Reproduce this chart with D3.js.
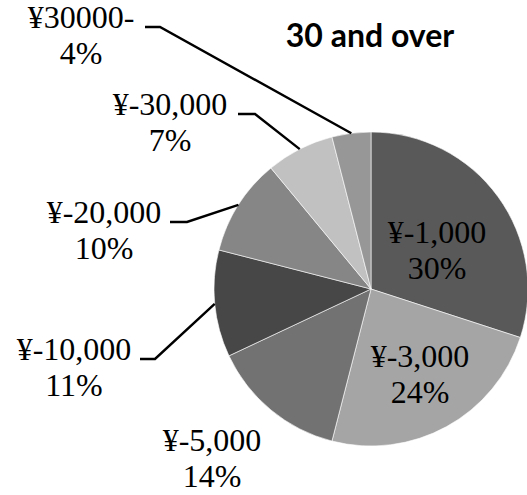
<!DOCTYPE html>
<html><head><meta charset="utf-8">
<script src="https://cdn.jsdelivr.net/npm/d3@7"></script>
<style>html,body{margin:0;padding:0;background:#fff;}svg{display:block;}</style>
</head><body>
<script>
const categories = ["¥-1,000", "¥-3,000", "¥-5,000", "¥-10,000", "¥-20,000", "¥-30,000", "¥30000-"];
const values = [30, 24, 14, 11, 10, 7, 4];
const percentLabels = ["30%", "24%", "14%", "11%", "10%", "7%", "4%"];
const colors = ["#595959", "#a5a5a5", "#727272", "#474747", "#868686", "#c1c1c1", "#979797"];
const title = "30 and over";

const W = 527, H = 495;
const cx = 371, cy = 289, R = 157;

const svg = d3.select("body").append("svg").attr("width", W).attr("height", H);

const pie = d3.pie().sort(null).value(d => d)(values);
const arc = d3.arc().innerRadius(0).outerRadius(R);

const g = svg.append("g").attr("transform", `translate(${cx},${cy})`);
g.selectAll("path").data(pie).join("path")
  .attr("d", arc)
  .attr("fill", (d, i) => colors[i])
  .attr("stroke", "#ffffff").attr("stroke-width", 0.6);

const labelPos = [
  {x: 437, y: 243},
  {x: 420, y: 367},
  {x: 212, y: 451},
  {x: 74,  y: 360, lead: [140, 155]},
  {x: 104, y: 223, lead: [170, 187]},
  {x: 170, y: 115, lead: [238, 255]},
  {x: 81,  y: 28,  lead: [145, 160]}
];
const lineGap = 36;

pie.forEach((d, i) => {
  const p = labelPos[i];
  if (!p.lead) return;
  const a = (d.startAngle + d.endAngle) / 2;
  const ex = cx + R * Math.sin(a), ey = cy - R * Math.cos(a);
  const ly = p.y - 1;
  svg.append("polyline")
    .attr("points", `${p.lead[0]},${ly} ${p.lead[1]},${ly} ${ex},${ey}`)
    .attr("fill", "none").attr("stroke", "#000").attr("stroke-width", 2.4);
});

pie.forEach((d, i) => {
  const p = labelPos[i];
  const t = svg.append("text")
    .attr("font-family", "'Liberation Serif', 'Times New Roman', serif")
    .attr("font-size", 32).attr("fill", "#000").attr("text-anchor", "middle");
  t.append("tspan").attr("x", p.x).attr("y", p.y).text(categories[i]);
  t.append("tspan").attr("x", p.x).attr("y", p.y + lineGap).text(percentLabels[i]);
});

svg.append("text")
  .attr("x", 370).attr("y", 47)
  .attr("text-anchor", "middle")
  .attr("font-family", "Lato, 'Open Sans', sans-serif")
  .attr("font-weight", "bold")
  .attr("font-size", 32)
  .attr("fill", "#000")
  .text(title);
</script>
</body></html>
